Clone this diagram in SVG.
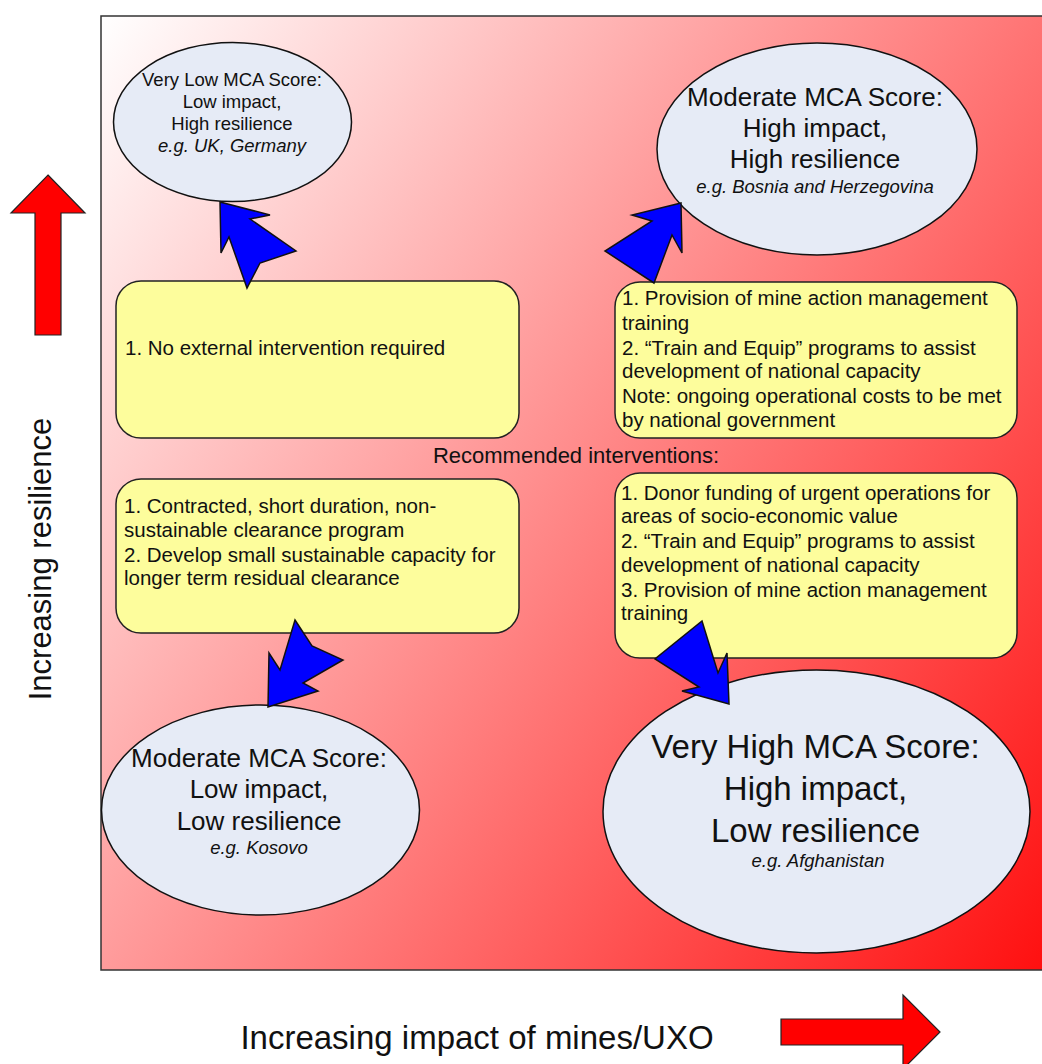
<svg xmlns="http://www.w3.org/2000/svg" width="1042" height="1064" viewBox="0 0 1042 1064">
<style>
text{font-family:"Liberation Sans",Arial,Helvetica,sans-serif;fill:#111}
.ell{fill:#e6ebf6;stroke:#111;stroke-width:1.5}
.box{fill:#fdfd9c;stroke:#222;stroke-width:1.5}
.blue{fill:#0000ff;stroke:#111;stroke-width:1.5;stroke-linejoin:miter}
.red{fill:#ff0000;stroke:#222;stroke-width:1.2}
.bt{font-size:20.5px}
.it{font-style:italic;font-size:18.5px}
</style>
<defs>
<linearGradient id="bg" gradientUnits="userSpaceOnUse" x1="101" y1="16" x2="1250" y2="830">
<stop offset="0" stop-color="#ffffff"/>
<stop offset="1" stop-color="#ff0000"/>
</linearGradient>
</defs>
<rect x="0" y="0" width="1042" height="1064" fill="#ffffff"/>
<g id="frame">
<rect x="101" y="16" width="960" height="954" fill="url(#bg)" stroke="#333" stroke-width="1.5"/>
</g>
<g id="axis-y">
<polygon class="red" points="48,175 85,213 61,213 61,335 35,335 35,213 11,213"/>
<text x="0" y="0" font-size="31" text-anchor="middle" transform="translate(51,559) rotate(-90)">Increasing resilience</text>
</g>
<g id="axis-x">
<polygon class="red" points="781,1019 903,1019 903,995 940,1032 903,1069 903,1045 781,1045"/>
<text x="477" y="1049" font-size="33" text-anchor="middle">Increasing impact of mines/UXO</text>
</g>
<g id="very-low">
<ellipse class="ell" cx="232.5" cy="122" rx="119" ry="79.5"/>
<text x="232" y="86" font-size="18.5" text-anchor="middle">Very Low MCA Score:</text>
<text x="232" y="108" font-size="18.5" text-anchor="middle">Low impact,</text>
<text x="232" y="130" font-size="18.5" text-anchor="middle">High resilience</text>
<text class="it" x="232" y="152" text-anchor="middle">e.g. UK, Germany</text>
</g>
<g id="moderate-high-impact">
<ellipse class="ell" cx="817" cy="149" rx="160" ry="106"/>
<text x="815" y="106" font-size="26" text-anchor="middle">Moderate MCA Score:</text>
<text x="815" y="137" font-size="26" text-anchor="middle">High impact,</text>
<text x="815" y="168" font-size="26" text-anchor="middle">High resilience</text>
<text class="it" x="815" y="193" text-anchor="middle">e.g. Bosnia and Herzegovina</text>
</g>
<g id="moderate-low-impact">
<ellipse class="ell" cx="260.5" cy="810" rx="159" ry="105"/>
<text x="259" y="767" font-size="26" text-anchor="middle">Moderate MCA Score:</text>
<text x="259" y="798" font-size="26" text-anchor="middle">Low impact,</text>
<text x="259" y="830" font-size="26" text-anchor="middle">Low resilience</text>
<text class="it" x="259" y="854" text-anchor="middle">e.g. Kosovo</text>
</g>
<g id="very-high">
<ellipse class="ell" cx="816.5" cy="811.5" rx="213.5" ry="141.5"/>
<text x="815.5" y="758" font-size="33" text-anchor="middle">Very High MCA Score:</text>
<text x="815.5" y="800" font-size="33" text-anchor="middle">High impact,</text>
<text x="815.5" y="842" font-size="33" text-anchor="middle">Low resilience</text>
<text class="it" x="818" y="867" text-anchor="middle">e.g. Afghanistan</text>
</g>
<g id="box-tl">
<rect class="box" x="116" y="281" width="403" height="157" rx="25" ry="25"/>
<text class="bt" x="125" y="355">1. No external intervention required</text>
</g>
<g id="box-tr">
<rect class="box" x="615" y="282" width="402" height="156" rx="25" ry="25"/>
<text class="bt" x="622" y="305">1. Provision of mine action management</text>
<text class="bt" x="622" y="330">training</text>
<text class="bt" x="622" y="355">2. “Train and Equip” programs to assist</text>
<text class="bt" x="622" y="378">development of national capacity</text>
<text class="bt" x="622" y="403">Note: ongoing operational costs to be met</text>
<text class="bt" x="622" y="427">by national government</text>
</g>
<g id="box-bl">
<rect class="box" x="116" y="479" width="403" height="154" rx="25" ry="25"/>
<text class="bt" x="124" y="513">1. Contracted, short duration, non-</text>
<text class="bt" x="124" y="537">sustainable clearance program</text>
<text class="bt" x="124" y="562">2. Develop small sustainable capacity for</text>
<text class="bt" x="124" y="585">longer term residual clearance</text>
</g>
<g id="box-br">
<rect class="box" x="615" y="473" width="402" height="185" rx="25" ry="25"/>
<text class="bt" x="621" y="500">1. Donor funding of urgent operations for</text>
<text class="bt" x="621" y="523">areas of socio-economic value</text>
<text class="bt" x="621" y="548">2. “Train and Equip” programs to assist</text>
<text class="bt" x="621" y="572">development of national capacity</text>
<text class="bt" x="621" y="597">3. Provision of mine action management</text>
<text class="bt" x="621" y="620">training</text>
</g>
<g id="label-recommended">
<text x="576" y="463" font-size="22" text-anchor="middle">Recommended interventions:</text>
</g>
<g id="connectors">
<polygon class="blue" points="220,202 270,215 250,219 296,251 260,263 247,288 229,237 221,253"/>
<polygon class="blue" points="681,203 682,253 672,235 654,283 605,251 652,221 632,215"/>
<polygon class="blue" points="295,620 312,646 343,660 303,683 318,691 268,707 269,653 280,670"/>
<polygon class="blue" points="702,621 718,673 727,653 729,704 682,691 699,687 655,659"/>
</g>
</svg>
